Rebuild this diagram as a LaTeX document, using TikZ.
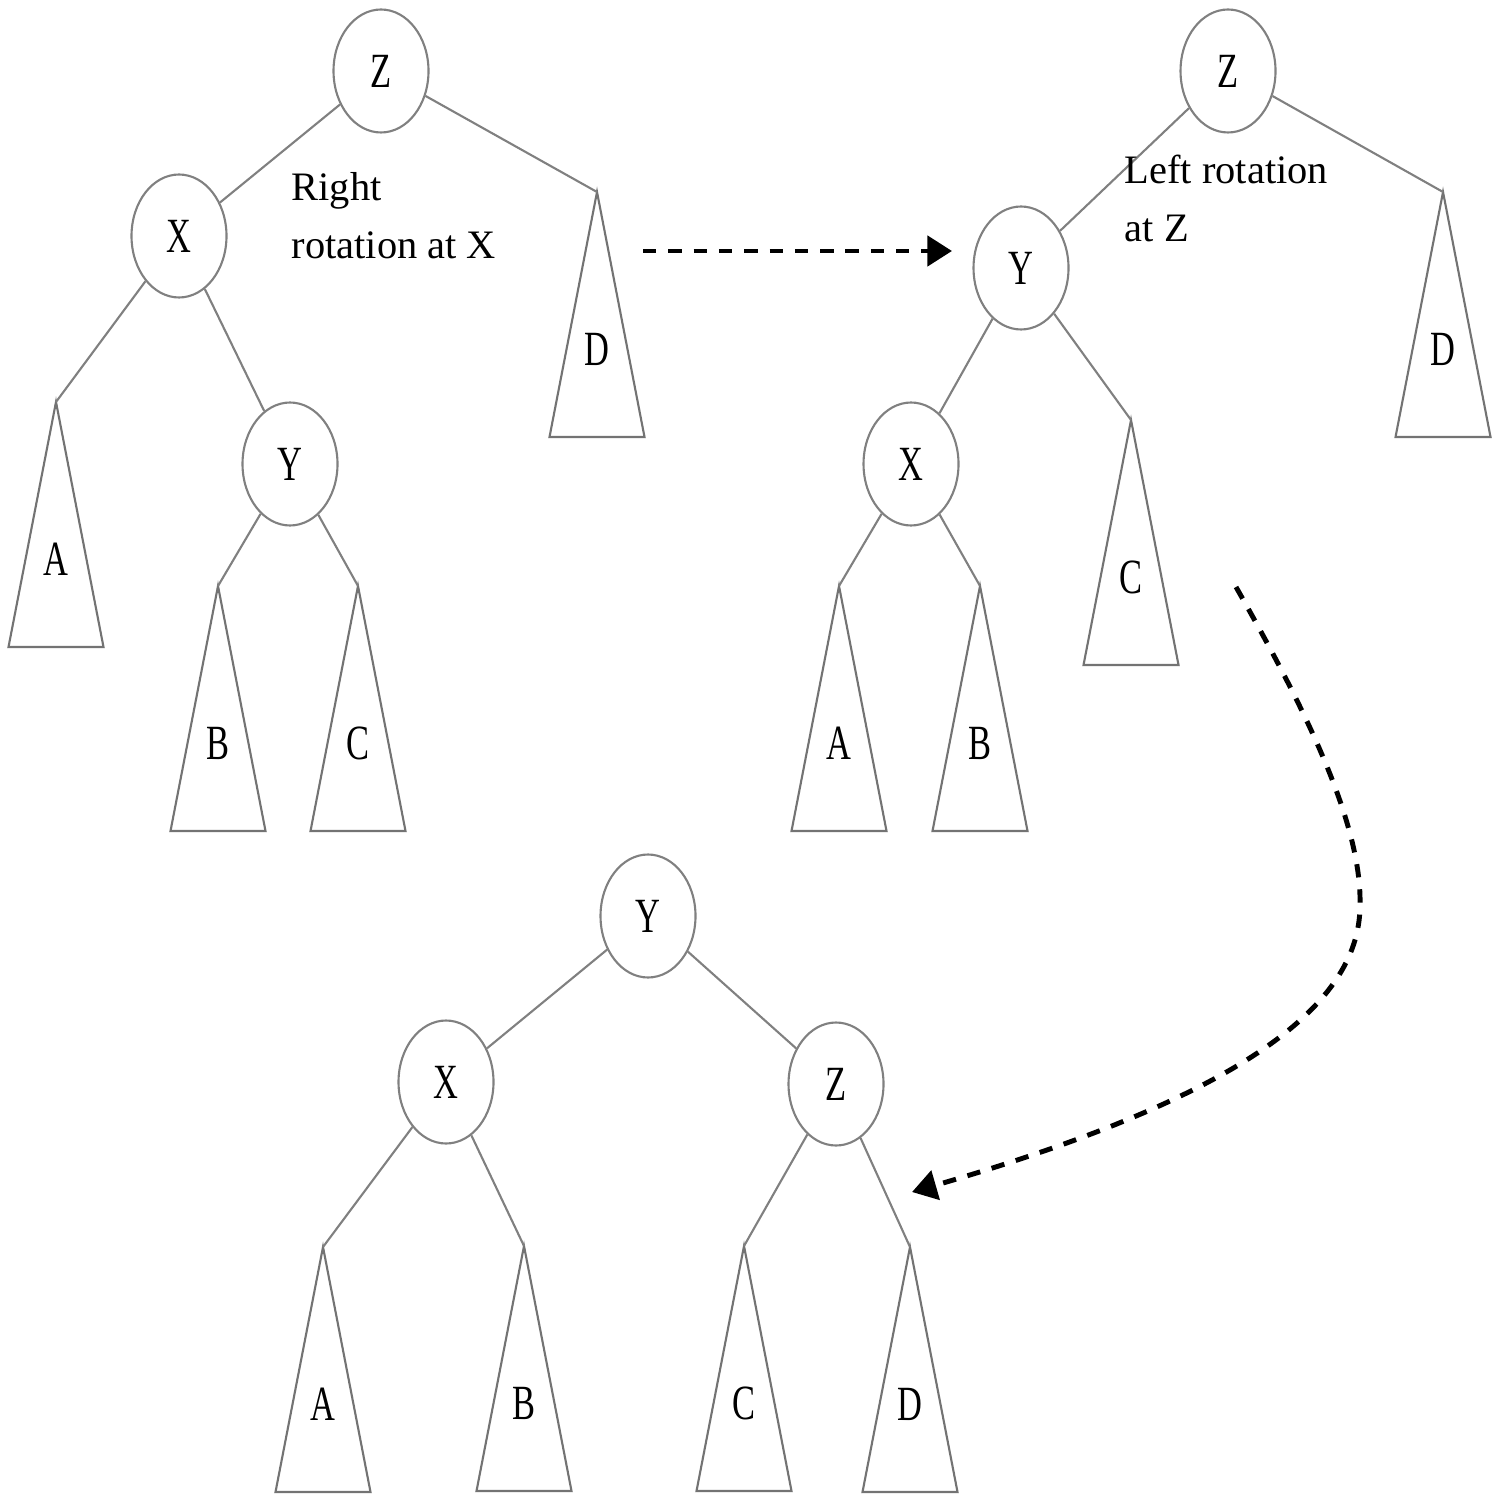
\documentclass[tikz,border=0pt]{standalone}
\usepackage{fontspec}
\setmainfont{Liberation Serif}
\usetikzlibrary{arrows.meta,shapes.geometric}
\newcommand{\nm}[1]{\scalebox{0.7}[1]{#1}}
\tikzset{
  key/.style={ellipse, draw=black!50, line width=0.6pt, minimum width=0.95cm,
              minimum height=1.23cm, inner sep=0pt, font=\fontsize{14}{16}\selectfont},
  link/.style={draw=black!50, line width=0.6pt},
  subtree/.style={draw=black!55, line width=0.6pt},
  lbl/.style={font=\fontsize{14}{16}\selectfont, inner sep=0pt},
  note/.style={font=\fontsize{11.5}{16.5}\selectfont, align=left, anchor=north west, inner sep=0pt},
  move/.style={line width=1.4pt, dash pattern=on 3.8pt off 3.4pt,
               -{Triangle[length=7pt,width=8.5pt]}},
}

\begin{document}
\begin{tikzpicture}[x=0.1mm, y=-0.1mm]
  \useasboundingbox (0,0) rectangle (1501,1495);
  % before: right rotation at X
  \node[key] (z1) at (381,71) {\nm{Z}};
  \node[key] (x1) at (179,236) {\nm{X}};
  \node[key] (y1) at (290,464) {\nm{Y}};
  % after the first rotation
  \node[key] (z2) at (1228,71) {\nm{Z}};
  \node[key] (y2) at (1021,268) {\nm{Y}};
  \node[key] (x2) at (911,464) {\nm{X}};
  % balanced result
  \node[key] (y3) at (648,916) {\nm{Y}};
  \node[key] (x3) at (446,1082) {\nm{X}};
  \node[key] (z3) at (836,1084) {\nm{Z}};
  % subtrees A..D
  \foreach \n/\x/\y/\l in {a1/56/402/A, b1/218/586/B, c1/358/586/C, d1/597/192/D,
                           a2/839/586/A, b2/980/586/B, c2/1131/420/C, d2/1443/192/D,
                           a3/323/1247/A, b3/524/1246/B, c3/744/1246/C, d3/910/1247/D}{
    \coordinate (\n) at (\x,\y);
    \draw[subtree] (\n) -- ++(-47.5,245) -- ++(95,0) -- cycle;
    \node[lbl] (t\n) at ([yshift=-1.57cm]\n) {\nm{\l}};
  }
  % edges
  \foreach \p/\c in {z1/x1, z1/d1, x1/a1, x1/y1, y1/b1, y1/c1,
                     z2/y2, z2/d2, y2/x2, y2/c2, x2/a2, x2/b2,
                     y3/x3, y3/z3, x3/a3, x3/b3, z3/c3, z3/d3}
    \draw[link] (\p) -- (\c);
  % notes
  \node[note] (n1) at (291,172) {Right\\rotation at X};
  \node[note] (n2) at (1124,154) {Left rotation\\at Z};
  % rotation arrows
  \coordinate (s1) at (643,251);
  \coordinate (e1) at (952,251);
  \draw[move] (s1) -- (e1);
  \coordinate (s2) at (1236,587);
  \coordinate (m2) at (1360,905);
  \coordinate (e2) at (912,1192);
  \draw[move] (s2) .. controls (1300,700) and (1362,820) .. (m2)
              .. controls (1360,1010) and (1230,1100) .. (e2);
\end{tikzpicture}
\end{document}
